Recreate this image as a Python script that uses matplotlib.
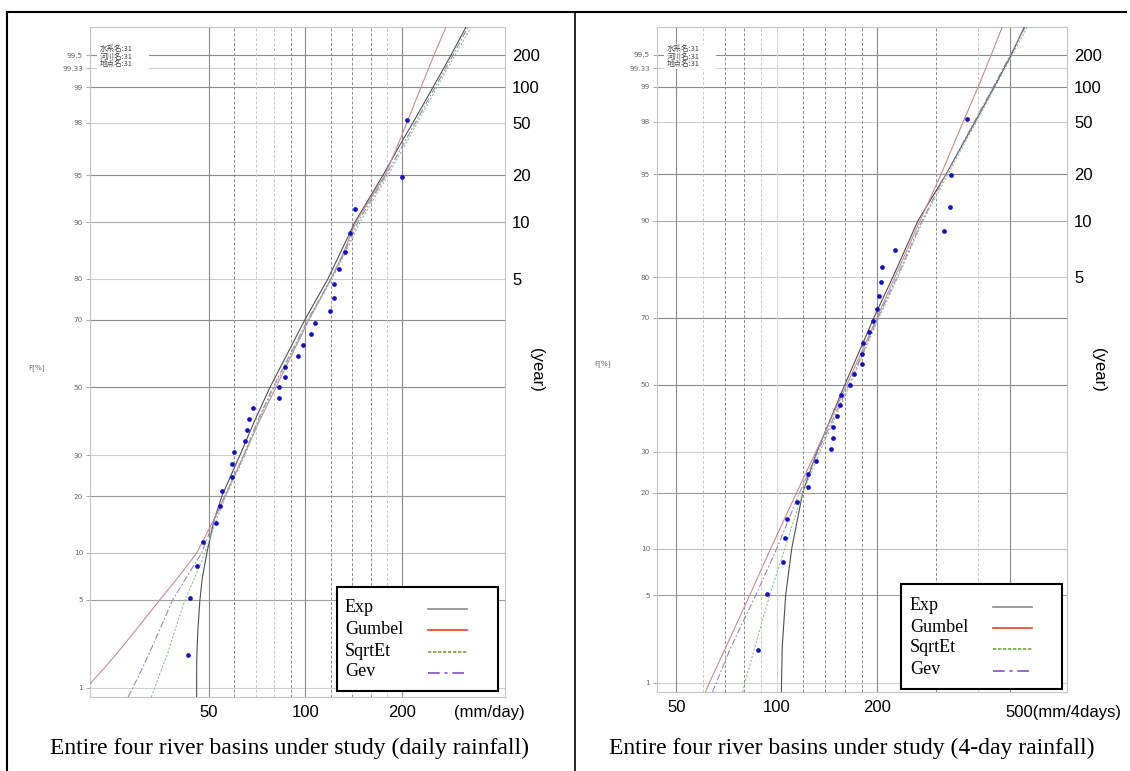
import numpy as np
import matplotlib
matplotlib.use('Agg')
import matplotlib.pyplot as plt
from matplotlib.lines import Line2D
from matplotlib.patches import Rectangle
from matplotlib.ticker import NullLocator, FixedLocator, FixedFormatter
from statistics import NormalDist

# ---- data ----
# plotting positions F[%] of the 31 annual maxima (same in both panels)
f_pos = [1.9, 5.1, 8.3, 11.5, 14.7, 17.9, 21.2, 24.4, 27.6, 30.8, 34.0, 37.2, 40.4,
         43.6, 46.8, 50.0, 53.2, 56.4, 59.6, 62.8, 66.0, 69.2, 72.4, 75.6, 78.8,
         82.1, 85.3, 88.5, 91.7, 94.9, 98.1]

daily_obs = [42.9, 43.8, 45.8, 47.8, 52.8, 54.0, 54.8, 58.9, 58.9, 60.1, 64.9, 65.9,
             66.8, 68.8, 82.9, 82.9, 86.1, 86.1, 95.0, 98.4, 104.3, 107.3, 119.5,
             122.7, 122.7, 126.9, 133.1, 137.3, 142.4, 200.0, 207.4]

fourday_obs = [87.9, 93.7, 104.7, 105.9, 107.4, 115.3, 124.1, 124.1, 130.9, 145.2,
               147.2, 147.9, 152.0, 154.4, 156.2, 166.3, 170.6, 180.3, 180.3, 181.6,
               189.2, 194.1, 200.0, 202.8, 205.6, 207.0, 226.0, 316.4, 331.4, 333.7, 371.0]

# fitted curves: value read at each non-exceedance level F[%]
daily_f = [0.82, 1, 1.5, 2, 3, 5, 7, 10, 15, 20, 30, 40, 50, 60, 70, 80, 85, 90, 95,
           97, 98, 99, 99.5, 99.74]
d_exp = [45.8, 45.8, 45.8, 45.9, 46.2, 46.9, 47.7, 49.3, 51.8, 54.9, 62.5, 69.6, 77.5,
         87.5, 99.6, 117.5, 128.1, 142.7, 174.5, 197.1, 216.5, 249.8, 284.3, 316.7]
d_gumbel = [19.8, 20.8, 23.7, 26.0, 29.6, 35.2, 40.0, 45.9, 51.5, 56.1, 64.3, 72.1, 80.9,
            90.7, 102.5, 120.1, 130.9, 143.7, 177.0, 194.3, 207.3, 229.2, 251.6, 274.3]
d_sqrtet = [33.1, 33.9, 35.8, 37.3, 39.2, 42.1, 45.2, 48.6, 52.6, 56.5, 64.8, 71.6, 79.8,
            90.1, 102.5, 121.0, 132.8, 147.9, 180.8, 204.4, 223.5, 257.1, 292.6, 328.3]
d_gev = [28.0, 29.0, 31.1, 32.7, 35.1, 38.6, 42.5, 47.5, 51.8, 56.1, 64.3, 71.1, 79.2,
         89.5, 101.8, 120.1, 131.8, 145.8, 178.3, 201.4, 220.4, 253.5, 288.4, 321.3]

fourday_f = [0.82, 1, 2, 5, 10, 20, 30, 50, 70, 80, 90, 95, 98, 99, 99.5, 99.74]
m_exp = [103.3, 103.4, 103.9, 106.4, 110.9, 119.7, 131.9, 160.0, 195.6, 223.0, 265.1,
         321.8, 393.2, 448.5, 504.3, 551.8]
m_gumbel = [61.2, 62.9, 70.3, 83.0, 95.9, 114.8, 131.0, 162.3, 199.7, 226.1, 268.9,
            310.9, 361.9, 401.5, 439.3, 474.0]
m_sqrtet = [79.0, 80.4, 85.9, 95.3, 105.7, 119.7, 134.6, 165.7, 202.5, 230.9, 274.5,
            326.3, 396.0, 451.6, 507.9, 563.4]
m_gev = [64.2, 66.0, 72.8, 86.5, 100.0, 117.2, 132.8, 164.6, 201.1, 229.3, 272.6,
         321.8, 390.5, 445.4, 500.8, 555.7]

f_ticks = [99.5, 99.33, 99, 98, 95, 90, 80, 70, 50, 30, 20, 10, 5, 1]
f_tick_labels = ['99.5', '99.33', '99', '98', '95', '90', '80', '70', '50', '30',
                 '20', '10', '5', '1']
return_periods = [200, 100, 50, 20, 10, 5]

series_names = ['Exp', 'Gumbel', 'SqrtEt', 'Gev']
station_lines = ['水系名:31', '河川名:31', '地点名:31']

# ---- normal probability scale ----
nd = NormalDist()
_ppf = np.vectorize(nd.inv_cdf, otypes=[float])
_cdf = np.vectorize(nd.cdf, otypes=[float])


def fwd(p):
    p = np.clip(np.asarray(p, dtype=float) / 100.0, 1e-9, 1 - 1e-9)
    return _ppf(p)


def inv(z):
    return _cdf(np.asarray(z, dtype=float)) * 100.0


plot_style = {
    'Exp': dict(color='#505050', lw=0.8, ls='-'),
    'Gumbel': dict(color='#c98c8c', lw=0.8, ls='-'),
    'SqrtEt': dict(color='#8cc48c', lw=0.8, ls=(0, (2, 1.5))),
    'Gev': dict(color='#9a86c2', lw=0.8, ls=(0, (6, 2, 1.5, 2))),
}
legend_style = {
    'Exp': dict(color='#8a8a8a', lw=1.2, ls='-'),
    'Gumbel': dict(color='#e8402a', lw=1.2, ls='-'),
    'SqrtEt': dict(color='#6aaa3a', lw=1.2, ls=(0, (2, 1))),
    'Gev': dict(color='#9966cc', lw=1.4, ls=(0, (6, 2.5, 1.5, 2.5))),
}

hgrid_color = {99.5: '#8a8a8a', 99.33: '#d0d0d0', 99: '#8a8a8a', 98: '#d0d0d0',
               95: '#8a8a8a', 90: '#a8a8a8', 80: '#cfcfcf', 70: '#8a8a8a',
               50: '#8a8a8a', 30: '#cfcfcf', 20: '#9a9a9a', 10: '#c0c0c0',
               5: '#a0a0a0', 1: '#d0d0d0'}

W, H = 1130, 771
fig = plt.figure(figsize=(W / 100, H / 100), dpi=100)


def fx(px):
    return px / W


def fy(py):
    return 1 - py / H


def panel(box, xlim, obs, levels, curves, xticks, vsolid, vfaint, vdash, vlight):
    x0, y0, x1, y1 = box
    ax = fig.add_axes([fx(x0), fy(y1), fx(x1) - fx(x0), fy(y0) - fy(y1)])
    ax.set_xscale('log')
    ax.set_yscale('function', functions=(fwd, inv))
    ax.set_xlim(*xlim)
    ax.set_ylim(0.82, 99.74)

    for f in f_ticks:
        ax.axhline(f, color=hgrid_color[f], lw=0.8, zorder=1)
    for v in vsolid:
        ax.axvline(v, color='#8a8a8a', lw=0.8, zorder=1)
    for v in vfaint:
        ax.axvline(v, color='#d8d8d8', lw=0.8, zorder=1)
    for v in vdash:
        ax.axvline(v, color='#8a8a8a', lw=0.7, ls=(0, (3, 2)), zorder=1)
    for v in vlight:
        ax.axvline(v, color='#c8c8c8', lw=0.7, ls=(0, (3, 2)), zorder=1)

    for name, vals in zip(series_names, curves):
        ax.plot(vals, levels, zorder=3, **plot_style[name])
    ax.plot(obs, f_pos, 'o', color='#1010c8', ms=3.4, mec='none', zorder=4)

    ax.yaxis.set_major_locator(FixedLocator(f_ticks))
    ax.yaxis.set_major_formatter(FixedFormatter(f_tick_labels))
    ax.yaxis.set_minor_locator(NullLocator())
    ax.tick_params(axis='y', length=3, width=0.6, color='#999999', labelsize=5.2,
                   labelcolor='#666666', pad=2)
    ax.xaxis.set_major_locator(FixedLocator(xticks))
    ax.xaxis.set_major_formatter(FixedFormatter([str(t) for t in xticks]))
    ax.xaxis.set_minor_locator(NullLocator())
    ax.tick_params(axis='x', length=0, labelsize=12, pad=6)
    for lab in ax.get_xticklabels():
        lab.set_fontfamily('Liberation Sans')
    for s in ax.spines.values():
        s.set_color('#c4c4c4')
        s.set_linewidth(0.8)

    ax2 = ax.twinx()
    ax2.set_yscale('function', functions=(fwd, inv))
    ax2.set_ylim(0.82, 99.74)
    ax2.yaxis.set_major_locator(FixedLocator([100 * (1 - 1 / t) for t in return_periods]))
    ax2.yaxis.set_major_formatter(FixedFormatter([str(t) for t in return_periods]))
    ax2.yaxis.set_minor_locator(NullLocator())
    ax2.tick_params(axis='y', length=0, labelsize=12, pad=5)
    for lab in ax2.get_yticklabels():
        lab.set_fontfamily('Liberation Sans')
    for s in ax2.spines.values():
        s.set_visible(False)

    # station annotation on a white patch
    pw, ph = x1 - x0, y1 - y0
    ax.add_patch(Rectangle((7 / pw, (y1 - 69) / ph), 52 / pw, 25 / ph,
                           transform=ax.transAxes, fc='white', ec='none', zorder=4))
    for i, t in enumerate(station_lines):
        ax.text(10 / pw, (y1 - (49 + 7.5 * i)) / ph, t,
                transform=ax.transAxes, fontsize=5.4, color='#444444', va='center',
                family=['Noto Sans CJK JP', 'DejaVu Sans'], zorder=5)
    return ax


axL = panel((90, 27, 505, 697), (21.3, 419), daily_obs, daily_f,
            [d_exp, d_gumbel, d_sqrtet, d_gev], [50, 100, 200],
            [50, 100, 200], [], [60, 90, 120, 140, 160], [70, 80, 180])
axR = panel((657, 27, 1067, 692), (43.8, 741), fourday_obs, fourday_f,
            [m_exp, m_gumbel, m_sqrtet, m_gev], [50, 100, 200],
            [50, 200, 500], [100], [70, 80, 120, 140, 160, 180, 300], [60, 90, 400])

# axis captions
fig.text(fx(37), fy(368), 'F[%]', fontsize=5.2, color='#666666', ha='center', va='center')
fig.text(fx(603), fy(364), 'F[%]', fontsize=5.2, color='#666666', ha='center', va='center')
fig.text(fx(537), fy(370), '(year)', fontsize=12, rotation=-90, ha='center', va='center',
         family='Liberation Sans')
fig.text(fx(1098), fy(370), '(year)', fontsize=12, rotation=-90, ha='center', va='center',
         family='Liberation Sans')
fig.text(fx(489), fy(712), '(mm/day)', fontsize=12, ha='center', va='center',
         family='Liberation Sans')
fig.text(fx(1005), fy(712), '500(mm/4days)', fontsize=12, ha='left', va='center',
         family='Liberation Sans')

fig.text(fx(290), fy(748), 'Entire four river basins under study (daily rainfall)',
         fontsize=17, ha='center', va='center', family='Liberation Serif')
fig.text(fx(852), fy(748), 'Entire four river basins under study (4-day rainfall)',
         fontsize=17, ha='center', va='center', family='Liberation Serif')


# legends
def legend_box(x0, y0, x1, y1, tx, lx0, lx1, rows):
    fig.add_artist(Rectangle((fx(x0), fy(y1)), fx(x1) - fx(x0), fy(y0) - fy(y1),
                             transform=fig.transFigure, fc='white', ec='black', lw=1.5,
                             zorder=10))
    for name, ry in zip(series_names, rows):
        fig.text(fx(tx), fy(ry), name, fontsize=13, ha='left', va='center',
                 family='Liberation Serif', zorder=11)
        fig.add_artist(Line2D([fx(lx0), fx(lx1)], [fy(ry + 1), fy(ry + 1)],
                              transform=fig.transFigure, zorder=11,
                              **legend_style[name]))


legend_box(337, 587, 498, 691, 345, 428, 467, [608, 629, 651, 672])
legend_box(901, 584, 1062, 689, 910, 993, 1032, [606, 627, 648, 670])

# table borders
fig.add_artist(Line2D([fx(7), fx(1126)], [fy(12), fy(12)], color='black', lw=1.5))
fig.add_artist(Line2D([fx(7), fx(7)], [fy(12), 0], color='black', lw=1.5))
fig.add_artist(Line2D([fx(575), fx(575)], [fy(12), 0], color='black', lw=1.2))

fig.savefig('out.png', dpi=100)
